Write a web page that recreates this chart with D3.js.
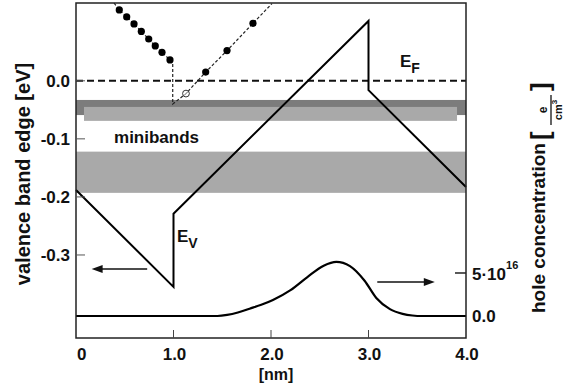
<!DOCTYPE html>
<html>
<head>
<meta charset="utf-8">
<script src="https://cdn.jsdelivr.net/npm/d3@7"></script>
<style>
  html, body { margin: 0; padding: 0; background: #fff; }
  svg text { font-family: "Liberation Sans", Arial, Helvetica, sans-serif; font-weight: bold; fill: #111; }
</style>
</head>
<body>
<div id="chart"></div>
<script>
// valence band edge E_V (nm, eV)
const bandX = [0, 1.0, 1.0, 3.0, 3.0, 4.0];
const bandE = [-0.188, -0.355, -0.229, 0.103, -0.016, -0.183];

// hole concentration (nm, units of 1e16 e/cm^3)
const holeX = [0, 1.0, 1.45, 1.55, 1.66, 1.78, 1.9, 2.02, 2.2, 2.37, 2.54, 2.67, 2.81, 2.96, 3.08, 3.22, 3.35, 3.45, 3.55, 4.0];
const holeC = [0, 0, 0, 0.12, 0.4, 0.85, 1.3, 1.86, 3.0, 4.5, 5.85, 6.3, 5.8, 4.1, 2.1, 0.8, 0.25, 0.06, 0, 0];

// minibands [x0, x1, eTop, eBottom, shade]
const minibands = [
  [0, 4.0, -0.033, -0.059, "dark"],
  [0.082, 3.908, -0.045, -0.069, "light"],
  [0, 4.0, -0.122, -0.193, "light"]
];

// dispersion inset (dashed path) and its dots
const dispX = [0.39, 0.444, 0.52, 0.595, 0.67, 0.746, 0.813, 0.882, 0.964, 0.992, 0.992, 1.128, 1.33, 1.549, 1.815, 2.01];
const dispE = [0.134, 0.122, 0.11, 0.098, 0.085, 0.072, 0.06, 0.049, 0.036, 0.031, -0.040, -0.022, 0.015, 0.052, 0.099, 0.133];
const dotX = [0.444, 0.52, 0.595, 0.67, 0.746, 0.813, 0.882, 0.964, 1.33, 1.549, 1.815];
const dotE = [0.122, 0.11, 0.098, 0.085, 0.072, 0.06, 0.049, 0.036, 0.015, 0.052, 0.099];
const openDot = [1.128, -0.022];

const xTicks = [0, 1, 2, 3, 4];
const xTickLabels = ["0", "1.0", "2.0", "3.0", "4.0"];
const yTicks = [0, -0.1, -0.2, -0.3];
const yTickLabels = ["0.0", "-0.1", "-0.2", "-0.3"];

const width = 564, height = 384;
const m = { left: 76, right: 98, top: 3, bottom: 46 };

const svg = d3.select("#chart").append("svg")
  .attr("width", width).attr("height", height);

const x = d3.scaleLinear().domain([0, 4]).range([m.left, width - m.right]);
const y = d3.scaleLinear().domain([-0.443, 0.134]).range([height - m.bottom, m.top]);
const yR = d3.scaleLinear().domain([-2.56, 36.4]).range([height - m.bottom, m.top]);

const shades = { dark: "#7c7c7c", light: "#a9a9a9" };

// minibands
svg.append("g").selectAll("rect")
  .data(minibands)
  .enter().append("rect")
  .attr("x", d => x(d[0]))
  .attr("width", d => x(d[1]) - x(d[0]))
  .attr("y", d => y(d[2]))
  .attr("height", d => y(d[3]) - y(d[2]))
  .attr("fill", d => shades[d[4]]);

// Fermi level
svg.append("line")
  .attr("x1", x(0)).attr("x2", x(4))
  .attr("y1", y(0)).attr("y2", y(0))
  .attr("stroke", "#111").attr("stroke-width", 2)
  .attr("stroke-dasharray", "7,4");

// dispersion inset
const dispLine = d3.line().x((d, i) => x(dispX[i])).y((d, i) => y(dispE[i]));
svg.append("path")
  .attr("d", dispLine(dispX))
  .attr("fill", "none")
  .attr("stroke", "#222").attr("stroke-width", 1.2)
  .attr("stroke-dasharray", "3,2");

svg.append("g").selectAll("circle")
  .data(dotX)
  .enter().append("circle")
  .attr("cx", d => x(d))
  .attr("cy", (d, i) => y(dotE[i]))
  .attr("r", 3.6)
  .attr("fill", "#000");

svg.append("circle")
  .attr("cx", x(openDot[0])).attr("cy", y(openDot[1]))
  .attr("r", 3.4)
  .attr("fill", "#fff").attr("stroke", "#333").attr("stroke-width", 1);
svg.append("line")
  .attr("x1", x(openDot[0]) - 2).attr("y1", y(openDot[1]) + 2)
  .attr("x2", x(openDot[0]) + 2).attr("y2", y(openDot[1]) - 2)
  .attr("stroke", "#333").attr("stroke-width", 0.8);

// valence band edge
const bandLine = d3.line().x((d, i) => x(bandX[i])).y((d, i) => y(bandE[i]));
svg.append("path")
  .attr("d", bandLine(bandX))
  .attr("fill", "none")
  .attr("stroke", "#000").attr("stroke-width", 2);

// hole concentration
const holeLine = d3.line()
  .x((d, i) => x(holeX[i]))
  .y((d, i) => yR(holeC[i]))
  .curve(d3.curveMonotoneX);
svg.append("path")
  .attr("d", holeLine(holeX))
  .attr("fill", "none")
  .attr("stroke", "#000").attr("stroke-width", 2.2);

// frame
svg.append("rect")
  .attr("x", x(0)).attr("y", m.top)
  .attr("width", x(4) - x(0)).attr("height", height - m.bottom - m.top)
  .attr("fill", "none").attr("stroke", "#222").attr("stroke-width", 1.5);

// ticks (inward)
svg.append("g").selectAll("line")
  .data(xTicks.slice(1, 4))
  .enter().append("line")
  .attr("x1", d => x(d)).attr("x2", d => x(d))
  .attr("y1", height - m.bottom).attr("y2", height - m.bottom - 8)
  .attr("stroke", "#444").attr("stroke-width", 1);

svg.append("g").selectAll("line")
  .data(yTicks)
  .enter().append("line")
  .attr("x1", x(0)).attr("x2", x(0) + 9)
  .attr("y1", d => y(d)).attr("y2", d => y(d))
  .attr("stroke", "#555").attr("stroke-width", 1);

svg.append("line")
  .attr("x1", x(4) - 11).attr("x2", x(4))
  .attr("y1", yR(5)).attr("y2", yR(5))
  .attr("stroke", "#222").attr("stroke-width", 1.5);

// tick labels
svg.append("g").selectAll("text")
  .data(xTicks)
  .enter().append("text")
  .attr("x", d => x(d) + 1)
  .attr("y", 360)
  .attr("text-anchor", d => d === 0 ? "start" : "middle")
  .attr("font-size", "17px")
  .text((d, i) => xTickLabels[i]);

svg.append("g").selectAll("text")
  .data(yTicks)
  .enter().append("text")
  .attr("x", 70)
  .attr("y", d => y(d) + 6)
  .attr("text-anchor", "end")
  .attr("font-size", "17px")
  .text((d, i) => yTickLabels[i]);

const r5 = svg.append("text")
  .attr("x", x(4) + 6).attr("y", yR(5) + 7)
  .attr("font-size", "17px");
r5.append("tspan").text("5\u00b710");
r5.append("tspan").attr("dy", -11).attr("font-size", "11px").text("16");

svg.append("text")
  .attr("x", x(4) + 6).attr("y", yR(0) + 6)
  .attr("font-size", "17px")
  .text("0.0");

// axis titles
svg.append("text")
  .attr("x", x(2) + 5).attr("y", 380)
  .attr("text-anchor", "middle")
  .attr("font-size", "16px")
  .text("[nm]");

svg.append("text")
  .attr("transform", "translate(30,174) rotate(-90)")
  .attr("text-anchor", "middle")
  .attr("font-size", "20px")
  .text("valence band edge [eV]");

const rt = svg.append("g").attr("transform", "translate(545,313) rotate(-90)");
rt.append("text")
  .attr("x", 0).attr("y", 0)
  .attr("font-size", "19px")
  .text("hole concentration");
rt.append("text")
  .attr("x", 173).attr("y", 4)
  .attr("font-size", "26px").attr("font-weight", "normal")
  .text("[");
rt.append("text")
  .attr("x", 203).attr("y", 2)
  .attr("text-anchor", "middle")
  .attr("font-size", "12px")
  .text("e");
rt.append("line")
  .attr("x1", 188).attr("x2", 218)
  .attr("y1", 6).attr("y2", 6)
  .attr("stroke", "#111").attr("stroke-width", 1.3);
const cm = rt.append("text")
  .attr("x", 203).attr("y", 17)
  .attr("text-anchor", "middle")
  .attr("font-size", "11px");
cm.append("tspan").text("cm");
cm.append("tspan").attr("dy", -5).attr("font-size", "8px").text("3");
rt.append("text")
  .attr("x", 222).attr("y", 4)
  .attr("font-size", "26px").attr("font-weight", "normal")
  .text("]");

// in-plot labels
svg.append("text")
  .attr("x", x(0.39)).attr("y", y(-0.1) + 4)
  .attr("font-size", "17px")
  .text("minibands");

const ef = svg.append("text").attr("x", 400).attr("y", 67).attr("font-size", "17px");
ef.append("tspan").text("E");
ef.append("tspan").attr("dy", 6).attr("font-size", "14px").text("F");

const ev = svg.append("text").attr("x", 177).attr("y", 242).attr("font-size", "17px");
ev.append("tspan").text("E");
ev.append("tspan").attr("dy", 6).attr("font-size", "14px").text("V");

// arrows
function arrow(x1, x2, yy) {
  const dir = Math.sign(x2 - x1);
  svg.append("line")
    .attr("x1", x1).attr("x2", x2 - dir * 9)
    .attr("y1", yy).attr("y2", yy)
    .attr("stroke", "#111").attr("stroke-width", 1.5);
  svg.append("path")
    .attr("d", `M${x2},${yy} L${x2 - dir * 11},${yy - 4} L${x2 - dir * 11},${yy + 4} Z`)
    .attr("fill", "#111");
}
arrow(x(0.73), x(0.16), y(-0.324));
arrow(x(3.09), x(3.68), yR(3.95));
</script>
</body>
</html>
